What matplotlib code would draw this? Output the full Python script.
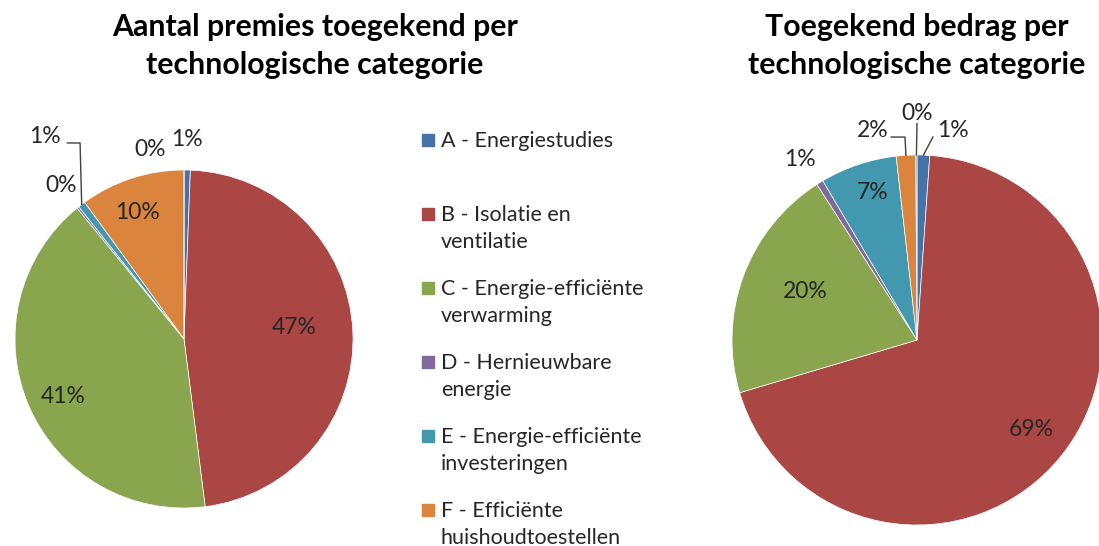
import numpy as np
import matplotlib
matplotlib.use("Agg")
import matplotlib.pyplot as plt
from matplotlib.patches import Rectangle

plt.rcParams['font.family'] = ['Lato', 'DejaVu Sans']

# data: share per technological category (%), clockwise from the top
categories = ['A', 'B', 'C', 'D', 'E', 'F', 'G']
legend_labels = ['A - Energiestudies',
                 'B - Isolatie en\nventilatie',
                 'C - Energie-efficiënte\nverwarming',
                 'D - Hernieuwbare\nenergie',
                 'E - Energie-efficiënte\ninvesteringen',
                 'F - Efficiënte\nhuishoudtoestellen',
                 'G']  # 7th entry falls off the bottom of the picture
count_share = [0.6, 47.4, 41.1, 0.2, 0.7, 10.0, 0.0]
amount_share = [1.1, 69.3, 20.5, 0.6, 6.7, 1.7, 0.1]

left_title = 'Aantal premies toegekend per\ntechnologische categorie'
right_title = 'Toegekend bedrag per\ntechnologische categorie'

colors = ['#4572A7', '#AA4643', '#89A54E', '#80699B', '#4198AF', '#DB843D', '#4572A7']

W, H = 1099, 546
fig = plt.figure(figsize=(W / 100, H / 100), dpi=100)


def pie_axes(cx, cy, r):
    # place a pie axes by its centre and radius in pixels
    return fig.add_axes([(cx - r) / W, (H - cy - r) / H, 2 * r / W, 2 * r / H])


def draw_pie(ax, values, label_pos, leaders):
    wedges, _ = ax.pie(values, colors=colors, startangle=90, counterclock=False,
                       radius=1, wedgeprops=dict(edgecolor='white', linewidth=0.5))
    ax.set_xlim(-1, 1)
    ax.set_ylim(-1, 1)
    for i, w in enumerate(wedges):
        x, y = label_pos[categories[i]]
        ax.text(x, y, '%.0f%%' % values[i], ha='center', va='center',
                fontsize=16.5, color='#262626')
        if categories[i] in leaders:
            mid = np.deg2rad((w.theta1 + w.theta2) / 2)
            pts = leaders[categories[i]] + [(np.cos(mid), np.sin(mid))]
            xs, ys = zip(*pts)
            ax.plot(xs, ys, color='#404040', lw=1, clip_on=False)


# left pie
ax1 = pie_axes(184, 339, 169)
left_pos = {'A': (0.02, 1.18), 'B': (0.65, 0.07), 'C': (-0.716, -0.343),
            'D': (-0.73, 0.91), 'E': (-0.82, 1.20), 'F': (-0.278, 0.75),
            'G': (-0.20, 1.12)}
left_leaders = {'E': [(-0.69, 1.16), (-0.615, 1.16)]}
draw_pie(ax1, count_share, left_pos, left_leaders)

# right pie
ax2 = pie_axes(917, 340, 185)
right_pos = {'A': (0.195, 1.135), 'B': (0.616, -0.486), 'C': (-0.605, 0.26),
             'D': (-0.632, 0.978), 'E': (-0.238, 0.795), 'F': (-0.238, 1.135),
             'G': (0.0, 1.227)}
right_leaders = {'F': [(-0.14, 1.097), (-0.065, 1.097)],
                 'G': [(0.0, 1.17)],
                 'A': [(0.086, 1.097)]}
draw_pie(ax2, amount_share, right_pos, right_leaders)

# titles
for cx, title in [(315, left_title), (917, right_title)]:
    fig.text(cx / W, 1 - 46 / H, title, ha='center', va='center',
             fontsize=21.8, fontweight='bold', linespacing=1.42)

# legend, drawn by hand so the marker sits at the first line
for i, lab in enumerate(legend_labels):
    y0 = 140 + i * 74
    fig.patches.append(Rectangle((422 / W, 1 - (y0 + 6) / H), 12 / W, 12 / H,
                                 transform=fig.transFigure, color=colors[i]))
    for j, line in enumerate(lab.split('\n')):
        fig.text(441 / W, 1 - (y0 + 7 + j * 27) / H, line, ha='left',
                 va='baseline', fontsize=15.5, color='#262626')

fig.savefig('out.png', dpi=100)
